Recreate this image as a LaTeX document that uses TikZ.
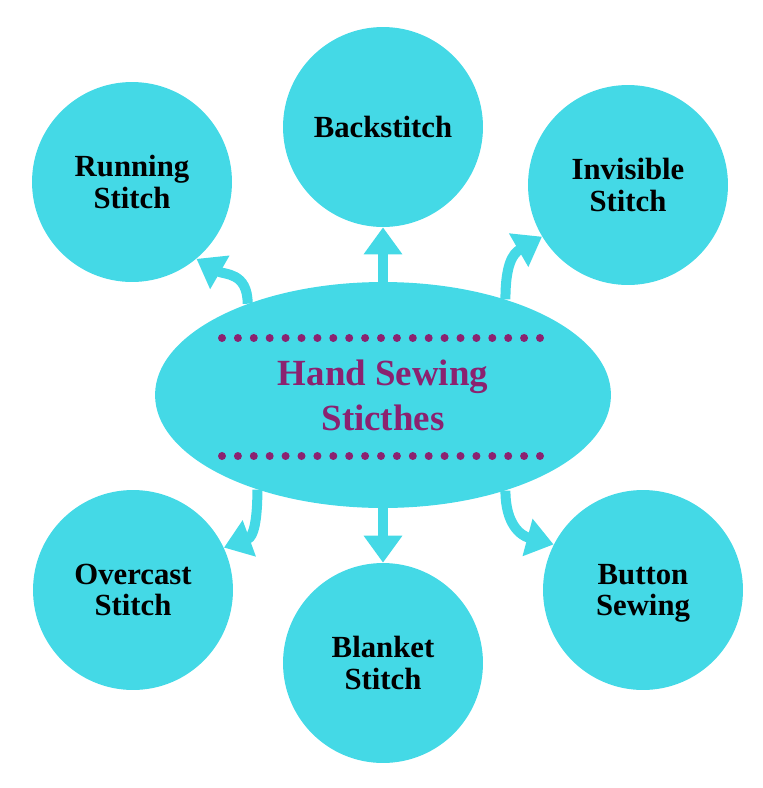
\documentclass[tikz,border=0pt]{standalone}
\usepackage{fontspec}
\setmainfont{Liberation Serif}
\usetikzlibrary{arrows.meta,shapes.geometric}
\definecolor{sewcyan}{HTML}{44D9E6}
\definecolor{sewpurple}{HTML}{8B2270}

\begin{document}
\begin{tikzpicture}[x=0.02cm,y=-0.02cm,
  stitch/.style={circle,fill=sewcyan,minimum size=4cm,inner sep=0pt,align=center,
    text depth=0pt,font=\fontsize{17.5}{18}\selectfont\bfseries},
  link/.style={draw=sewcyan,line width=0.2cm,-{Triangle[width=0.74cm,length=0.54cm]}}]
\useasboundingbox (0,0) rectangle (762,788);
% centre
\node[ellipse,fill=sewcyan,minimum width=9.12cm,minimum height=4.52cm,inner sep=0pt,
  align=center,text=sewpurple,font=\fontsize{21}{25.5}\selectfont\bfseries]
  (hand) at (383,395) {Hand Sewing\\Sticthes};
% stitches
\node[stitch] (run) at (132,182) {Running\\Stitch};
\node[stitch] (back) at (383,127) {Backstitch};
\node[stitch] (invis) at (628,185) {Invisible\\Stitch};
\node[stitch] (over) at (133,590) {Overcast\\Stitch};
\node[stitch] (blank) at (383,663) {Blanket\\Stitch};
\node[stitch] (button) at (643,590) {Button\\Sewing};
% dotted rows
\foreach \i in {0,...,20}{
  \fill[sewpurple] (222+15.9*\i,338) circle (4);
  \fill[sewpurple] (222+15.9*\i,456) circle (4);
}
% arrows
\draw[link] (hand.146) to[out=90,in=-30,looseness=1.2] (run.-50);
\draw[link] (hand.north) -- (back.south);
\draw[link] (hand.38) to[out=90,in=210,looseness=1.2] (invis.211);
\draw[link] (hand.217) to[out=-90,in=20,looseness=1.2] (over.25);
\draw[link] (hand.south) -- (blank.north);
\draw[link] (hand.-38) to[out=-90,in=165,looseness=1.2] (button.153);
\end{tikzpicture}
\end{document}
